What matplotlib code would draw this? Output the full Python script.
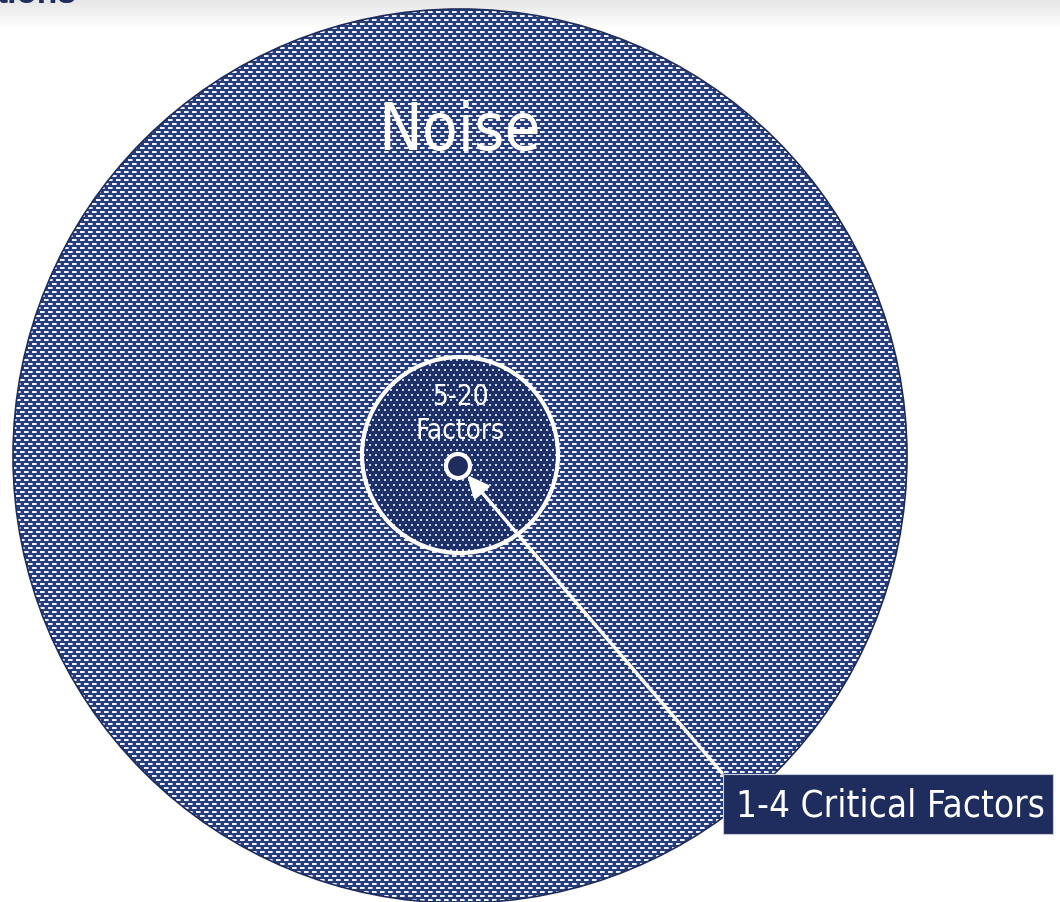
import matplotlib.pyplot as plt
import numpy as np
from matplotlib.patches import Circle, Rectangle

# layers of the funnel, outermost first
layer_labels = ['Noise', '5-20\nFactors', '']
layer_centers = [(460, 457), (460, 456), (458, 467)]
layer_radii = [447, 98, 12]
callout_label = '1-4 Critical Factors'
callout_box = (723, 775, 330, 60)   # x, y, width, height
header_text = 'tions'

W, H = 1060, 903
navy = '#1f2d5e'
navy_outer = (0.16, 0.24, 0.49)
navy_inner = (0.12, 0.19, 0.41)

fig = plt.figure(figsize=(W / 100, H / 100), dpi=100)
ax = fig.add_axes([0, 0, 1, 1])
ax.set_xlim(0, W)
ax.set_ylim(H, 0)
ax.axis('off')

# header strip
grad = np.linspace(0.90, 1.0, 30)[:, None] * np.ones((30, W))
ax.imshow(np.dstack([grad] * 3), extent=[0, W, 30, 0], interpolation='bilinear', zorder=0)
ax.text(-3, 3, header_text, fontsize=24, fontweight='bold', color=navy,
        family=['Liberation Sans', 'DejaVu Sans'], ha='left', va='baseline', zorder=1)

yy, xx = np.indices((H, W))

# woven texture for the noise circle
shift = 4 * ((yy // 4) % 2)
col = (xx + shift) % 8
band = (yy % 4) < 2
outer_img = np.ones((H, W, 3)) * navy_outer
outer_img[band & (col < 4)] = (0.95, 0.96, 1.0)
outer_img[band & (col == 4)] = (0.62, 0.68, 0.84)

# dotted texture for the factor circle
shift2 = 3 * ((yy // 5) % 2)
inner_mask = ((yy % 5) < 2) & (((xx + shift2) % 6) < 2)
inner_img = np.ones((H, W, 3)) * navy_inner
inner_img[inner_mask] = (0.80, 0.84, 0.95)

(cx0, cy0), r0 = layer_centers[0], layer_radii[0]
big = Circle((cx0, cy0), r0, facecolor='none', edgecolor=navy, lw=1.2, zorder=3)
ax.add_patch(big)
im = ax.imshow(outer_img, extent=[0, W, H, 0], interpolation='nearest', zorder=2)
im.set_clip_path(Circle((cx0, cy0), r0, transform=ax.transData))

(cx1, cy1), r1 = layer_centers[1], layer_radii[1]
im2 = ax.imshow(inner_img, extent=[0, W, H, 0], interpolation='nearest', zorder=4)
im2.set_clip_path(Circle((cx1, cy1), r1, transform=ax.transData))
ax.add_patch(Circle((cx1, cy1), r1, facecolor='none', edgecolor='white', lw=3, zorder=5))

(cx2, cy2), r2 = layer_centers[2], layer_radii[2]
ax.add_patch(Circle((cx2, cy2), r2, facecolor=navy, edgecolor='white', lw=3, zorder=6))

narrow = dict(family='DejaVu Sans', fontstretch='condensed')
ax.text(cx0, 132, layer_labels[0], fontsize=47, color='white',
        ha='center', va='center', zorder=7, **narrow)
ax.text(cx1, 414, layer_labels[1], fontsize=20, color='white',
        ha='center', va='center', linespacing=1.25, zorder=7, **narrow)

# callout box and arrow
bx, by, bw, bh = callout_box
ax.add_patch(Rectangle((bx, by), bw, bh, facecolor=navy, edgecolor='#c8ccd8', lw=0.8, zorder=8))
ax.text(bx + bw / 2 + 2, by + bh / 2 + 1, callout_label, fontsize=26.5, color='white',
        ha='center', va='center', zorder=9, **narrow)
ax.annotate('', xy=(cx2 + 9, cy2 + 9), xytext=(bx - 1, by - 1),
            arrowprops=dict(arrowstyle='-|>,head_length=1.3,head_width=0.6',
                            color='white', lw=2.5, shrinkA=0, shrinkB=0),
            zorder=7)

fig.savefig('out.png', dpi=100)
